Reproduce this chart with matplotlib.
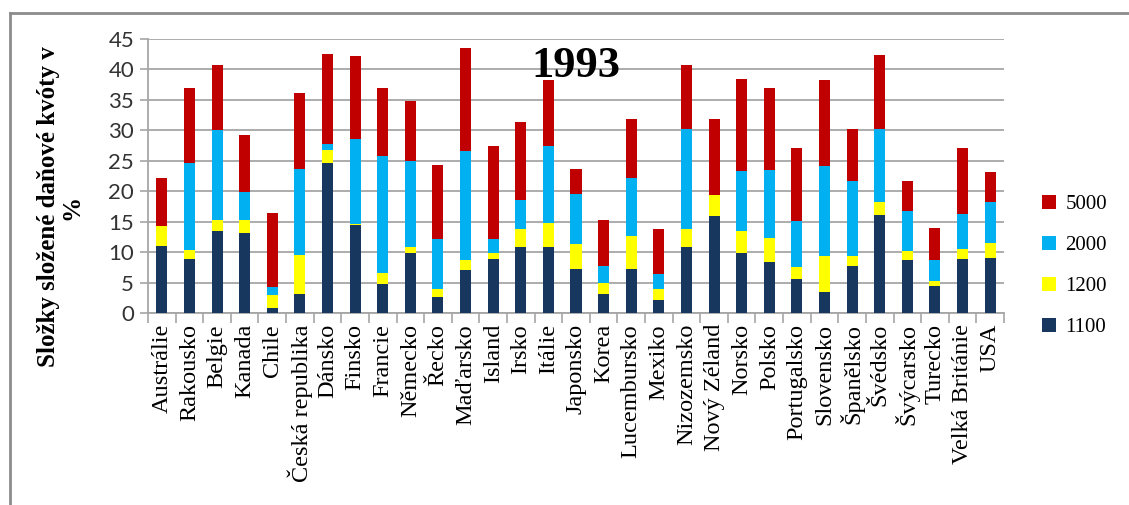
import matplotlib
matplotlib.use("Agg")
import matplotlib.pyplot as plt
import numpy as np
from matplotlib.lines import Line2D
from matplotlib.patches import Patch

# ===============================
# DATA (segment heights, % of labour cost)
# ===============================
ZEME = ["Austrálie", "Rakousko", "Belgie", "Kanada", "Chile", "Česká republika",
        "Dánsko", "Finsko", "Francie", "Německo", "Řecko", "Maďarsko", "Island",
        "Irsko", "Itálie", "Japonsko", "Korea", "Lucembursko", "Mexiko",
        "Nizozemsko", "Nový Zéland", "Norsko", "Polsko", "Portugalsko",
        "Slovensko", "Španělsko", "Švédsko", "Švýcarsko", "Turecko",
        "Velká Británie", "USA"]

d1100 = [11.0, 8.9, 13.5, 13.1, 0.9, 3.1, 24.7, 14.5, 4.7, 9.8, 2.6, 7.0, 8.9,
         10.9, 10.9, 7.2, 3.1, 7.2, 2.2, 10.8, 15.9, 9.9, 8.3, 5.6, 3.4, 7.7,
         16.1, 8.7, 4.5, 8.9, 9.1]
d1200 = [3.3, 1.5, 1.8, 2.1, 2.0, 6.4, 2.1, 0.1, 1.8, 1.1, 1.4, 1.7, 1.0,
         2.9, 3.9, 4.1, 1.9, 5.5, 1.8, 3.0, 3.4, 3.6, 4.0, 1.9, 6.0, 1.7,
         2.1, 1.5, 0.7, 1.6, 2.4]
d2000 = [0.0, 14.3, 14.7, 4.7, 1.4, 14.2, 0.9, 13.9, 19.3, 14.0, 8.1, 17.9, 2.2,
         4.8, 12.7, 8.3, 2.7, 9.4, 2.4, 16.4, 0.0, 9.8, 11.2, 7.6, 14.7, 12.2,
         12.1, 6.6, 3.5, 5.8, 6.7]
d5000 = [7.9, 12.3, 10.7, 9.3, 12.2, 12.4, 14.9, 13.7, 11.1, 9.9, 12.2, 16.9, 15.3,
         12.7, 10.7, 4.1, 7.6, 9.8, 7.4, 10.5, 12.6, 15.1, 13.4, 12.0, 14.1, 8.6,
         12.1, 4.8, 5.3, 10.8, 4.9]

SERIE = ["1100", "1200", "2000", "5000"]
CORES = ["#17375E", "#FFFF00", "#00B0F0", "#C00000"]

TITULO = "1993"
YLABEL = "Složky složené daňové kvóty v\n%"

# ===============================
# FIGURE
# ===============================
fig = plt.figure(figsize=(11.29, 5.05), dpi=100)
ax = fig.add_axes([148 / 1129, 1 - 313 / 505, (1004 - 148) / 1129, (313 - 39) / 505])

x = np.arange(len(ZEME))
base = np.zeros(len(ZEME))
handles = []
for nome, vals, cor in zip(SERIE, [d1100, d1200, d2000, d5000], CORES):
    vals = np.array(vals)
    ax.bar(x, vals, bottom=base, width=0.4, color=cor, zorder=3)
    base += vals
    handles.append(Patch(facecolor=cor, label=nome))

ax.set_xlim(-0.5, len(ZEME) - 0.5)
ax.set_ylim(0, 45)
ax.set_yticks(range(0, 46, 5))
ax.yaxis.grid(True, color="#A6A6A6", linewidth=1.3, zorder=0)

ax.set_xticks(x)
ax.set_xticklabels(ZEME, rotation=90, fontfamily="Liberation Serif", fontsize=17.5)
ax.set_xticks(np.arange(-0.5, len(ZEME), 1), minor=True)
ax.tick_params(axis="x", which="major", length=0, pad=8)
ax.tick_params(axis="x", which="minor", length=7, color="#A6A6A6", width=1.2)
ax.tick_params(axis="y", length=6, color="#A6A6A6", width=1.2, labelsize=16, pad=4)
for lab in ax.get_yticklabels():
    lab.set_fontfamily("Lato")
    lab.set_color("#333333")

for s in ["top", "right"]:
    ax.spines[s].set_visible(False)
for s in ["left", "bottom"]:
    ax.spines[s].set_color("#A6A6A6")
    ax.spines[s].set_linewidth(1.3)

ax.text(0.5, 0.9, TITULO, transform=ax.transAxes, ha="center", va="center",
        fontfamily="Liberation Serif", fontweight="bold", fontsize=32)

fig.text(60 / 1129, 1 - 207 / 505, YLABEL, rotation=90, ha="center", va="center",
         fontfamily="Liberation Serif", fontweight="bold", fontsize=18,
         multialignment="center", linespacing=1.0)

leg = fig.legend(handles[::-1], [h.get_label() for h in handles[::-1]],
                 loc="center left", bbox_to_anchor=(1032 / 1129, 1 - 266 / 505),
                 frameon=False, prop={"family": "Liberation Serif", "size": 15},
                 handlelength=0.65, handleheight=0.65, handletextpad=0.45,
                 labelspacing=1.05, borderpad=0)

# outer frame (left and top edges visible)
fig.add_artist(Line2D([10 / 1129, 10 / 1129], [0, 1 - 13 / 505],
                      transform=fig.transFigure, color="#8C8C8C", linewidth=2))
fig.add_artist(Line2D([10 / 1129, 1], [1 - 13 / 505, 1 - 13 / 505],
                      transform=fig.transFigure, color="#8C8C8C", linewidth=2))

fig.savefig("out.png", dpi=100, facecolor="white")
